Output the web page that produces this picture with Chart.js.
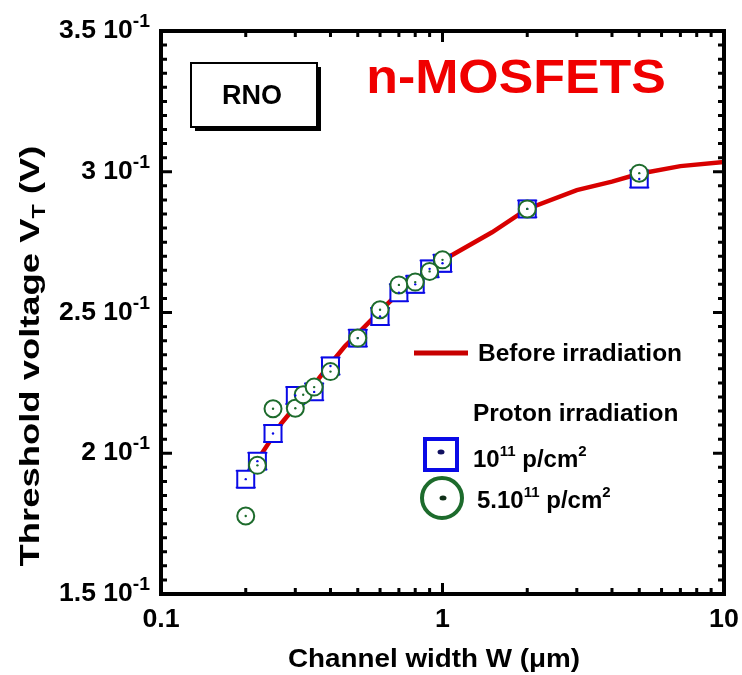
<!DOCTYPE html>
<html><head><meta charset="utf-8">
<script src="https://cdn.jsdelivr.net/npm/chart.js@4.4.1/dist/chart.umd.min.js"></script>
<style>html,body{margin:0;padding:0;background:#fff;}canvas{display:block;}</style>
</head><body>
<canvas id="c" width="742" height="675"></canvas>
<script>
// ---- data ----
const lineW  = [0.22, 0.25, 0.267, 0.3, 0.35, 0.4, 0.45, 0.5, 0.6, 0.7, 0.8, 0.9, 1.0, 1.5, 2, 3, 4, 5, 7, 10];
const lineVT = [0.1975, 0.206, 0.2105, 0.2166, 0.2245, 0.2318, 0.238, 0.2425, 0.2505, 0.257, 0.2615, 0.2655, 0.2685, 0.2785, 0.2868, 0.2935, 0.2965, 0.2993, 0.302, 0.3035];

const sqW   = [0.2, 0.22, 0.25, 0.3, 0.35, 0.4, 0.5, 0.6, 0.7, 0.8, 0.9, 1, 2, 5];
const sqVT  = [0.1908, 0.1972, 0.207, 0.2205, 0.2218, 0.231, 0.2409, 0.2486, 0.257, 0.260, 0.2655, 0.2675, 0.2868, 0.2974];
const sqErr = [0.003, 0.003, 0.003, 0.003, 0.003, 0.003, 0.003, 0.003, 0.003, 0.003, 0.003, 0.003, 0.003, 0.003];

const ciW   = [0.2, 0.22, 0.25, 0.3, 0.32, 0.35, 0.4, 0.5, 0.6, 0.7, 0.8, 0.9, 1, 2, 5];
const ciVT  = [0.1777, 0.1957, 0.2158, 0.216, 0.2208, 0.2235, 0.229, 0.2409, 0.251, 0.2598, 0.2608, 0.2646, 0.2687, 0.2868, 0.2995];

const xTicks = [0.1, 1, 10];
const xTickLabels = ['0.1', '1', '10'];
const yTicks = [0.15, 0.2, 0.25, 0.3, 0.35];
const yTickLabels = ['1.5', '2', '2.5', '3', '3.5'];
const yTickExp = '-1';

const seriesNames = ['Before irradiation', 'Proton irradiation', '10', '5.10'];

// ---- styles ----
const RED = '#d80000';
const BLUE = '#0a0ae6';
const GREEN = '#1d6b2c';
const FONT = '"Liberation Sans", Arial, Helvetica, sans-serif';

const zip = (a, b) => a.map((v, i) => ({x: v, y: b[i]}));

function richWidth(ctx, parts) {
  let w = 0;
  for (const p of parts) { ctx.font = 'bold ' + p.size + 'px ' + FONT; w += ctx.measureText(p.t).width; }
  return w;
}
function drawRich(ctx, parts, x, y, align, sx) {
  sx = sx || 1;
  const w = richWidth(ctx, parts);
  ctx.save();
  ctx.translate(x, y);
  ctx.scale(sx, 1);
  let cx = align === 'right' ? -w : (align === 'center' ? -w / 2 : 0);
  ctx.textBaseline = 'alphabetic';
  ctx.textAlign = 'left';
  for (const p of parts) {
    ctx.font = 'bold ' + p.size + 'px ' + FONT;
    ctx.fillText(p.t, cx, (p.dy || 0));
    cx += ctx.measureText(p.t).width;
  }
  ctx.restore();
}

const decor = {
  id: 'decor',
  beforeDatasetsDraw(chart) {
    const ctx = chart.ctx, xs = chart.scales.x, ys = chart.scales.y;
    ctx.save();
    ctx.strokeStyle = BLUE; ctx.lineWidth = 1.5;
    sqW.forEach((w, i) => {
      const px = xs.getPixelForValue(w);
      const p1 = ys.getPixelForValue(sqVT[i] + sqErr[i]);
      const p2 = ys.getPixelForValue(sqVT[i] - sqErr[i]);
      ctx.beginPath();
      ctx.moveTo(px, p1); ctx.lineTo(px, p2);
      ctx.moveTo(px - 10, p1); ctx.lineTo(px + 10, p1);
      ctx.moveTo(px - 10, p2); ctx.lineTo(px + 10, p2);
      ctx.stroke();
    });
    ctx.restore();
  },
  afterDatasetsDraw(chart) {
    const ctx = chart.ctx, xs = chart.scales.x, ys = chart.scales.y;
    ctx.save();
    ctx.fillStyle = BLUE;
    sqW.forEach((w, i) => {
      ctx.beginPath(); ctx.arc(xs.getPixelForValue(w), ys.getPixelForValue(sqVT[i]), 1.2, 0, 2 * Math.PI); ctx.fill();
    });
    ctx.fillStyle = GREEN;
    ciW.forEach((w, i) => {
      ctx.beginPath(); ctx.arc(xs.getPixelForValue(w), ys.getPixelForValue(ciVT[i]), 1.2, 0, 2 * Math.PI); ctx.fill();
    });
    ctx.restore();
  },
  afterDraw(chart) {
    const ctx = chart.ctx, xs = chart.scales.x, ys = chart.scales.y;
    const {left, right, top, bottom} = chart.chartArea;
    ctx.save();
    // frame
    ctx.strokeStyle = '#000'; ctx.lineWidth = 4;
    ctx.strokeRect(left, top, right - left, bottom - top);
    // x ticks (log minor)
    ctx.lineWidth = 3;
    ctx.beginPath();
    for (let d = -1; d < 1; d++) {
      for (let m = 1; m < 10; m++) {
        const v = m * Math.pow(10, d);
        const px = xs.getPixelForValue(v);
        const len = m === 1 ? 11 : 6;
        ctx.moveTo(px, bottom); ctx.lineTo(px, bottom - len);
        ctx.moveTo(px, top); ctx.lineTo(px, top + len);
      }
    }
    // y ticks
    for (let k = 0; k <= 40; k++) {
      const v = 0.15 + k * 0.005;
      const py = ys.getPixelForValue(v);
      const len = k % 10 === 0 ? 11 : 6;
      ctx.moveTo(left, py); ctx.lineTo(left + len, py);
      ctx.moveTo(right, py); ctx.lineTo(right - len, py);
    }
    ctx.stroke();

    // tick labels
    ctx.fillStyle = '#000';
    yTicks.forEach((v, i) => {
      const py = ys.getPixelForValue(v);
      drawRich(ctx, [
        {t: yTickLabels[i] + ' 10', size: 26},
        {t: yTickExp, size: 19, dy: -11}
      ], 150, py + 7, 'right', 1.02);
    });
    xTicks.forEach((v, i) => {
      drawRich(ctx, [{t: xTickLabels[i], size: 26}], xs.getPixelForValue(v), 627, 'center', 1.03);
    });

    // axis titles
    drawRich(ctx, [{t: 'Channel width W (\u03bcm)', size: 26}], 434, 667, 'center', 1.07);
    ctx.save();
    ctx.translate(39, 356);
    ctx.rotate(-Math.PI / 2);
    drawRich(ctx, [
      {t: 'Threshold voltage V', size: 28},
      {t: 'T', size: 18, dy: 6},
      {t: ' (V)', size: 28}
    ], 0, 0, 'center', 1.3);
    ctx.restore();

    // RNO box
    ctx.fillStyle = '#000';
    ctx.fillRect(195, 67, 126, 64);
    ctx.fillStyle = '#fff';
    ctx.fillRect(191, 63, 126, 64);
    ctx.strokeStyle = '#000'; ctx.lineWidth = 2;
    ctx.strokeRect(191, 63, 126, 64);
    ctx.fillStyle = '#000';
    drawRich(ctx, [{t: 'RNO', size: 27}], 252, 104, 'center');

    // n-MOSFETS
    ctx.fillStyle = '#f00000';
    drawRich(ctx, [{t: 'n-MOSFETS', size: 48}], 516, 93, 'center', 1.08);

    // legend
    ctx.strokeStyle = '#c80000'; ctx.lineWidth = 5;
    ctx.beginPath(); ctx.moveTo(414, 353); ctx.lineTo(468, 353); ctx.stroke();
    ctx.fillStyle = '#000';
    drawRich(ctx, [{t: seriesNames[0], size: 24}], 478, 361, 'left', 1.02);
    drawRich(ctx, [{t: seriesNames[1], size: 24}], 473, 421, 'left', 1.02);
    // square symbol
    ctx.strokeStyle = BLUE; ctx.lineWidth = 4;
    ctx.strokeRect(425, 439, 32, 31);
    ctx.fillStyle = '#101060';
    ctx.beginPath(); ctx.ellipse(441, 452, 3.5, 2.5, 0, 0, 2 * Math.PI); ctx.fill();
    ctx.fillStyle = '#000';
    drawRich(ctx, [
      {t: seriesNames[2], size: 24}, {t: '11', size: 15, dy: -11},
      {t: ' p/cm', size: 24}, {t: '2', size: 15, dy: -11}
    ], 473, 467, 'left');
    // circle symbol
    ctx.strokeStyle = GREEN; ctx.lineWidth = 4;
    ctx.beginPath(); ctx.arc(442, 498, 20, 0, 2 * Math.PI); ctx.stroke();
    ctx.fillStyle = '#103018';
    ctx.beginPath(); ctx.ellipse(443, 498, 3.5, 2.5, 0, 0, 2 * Math.PI); ctx.fill();
    ctx.fillStyle = '#000';
    drawRich(ctx, [
      {t: seriesNames[3], size: 24}, {t: '11', size: 15, dy: -11},
      {t: ' p/cm', size: 24}, {t: '2', size: 15, dy: -11}
    ], 477, 508, 'left');
    ctx.restore();
  }
};

new Chart(document.getElementById('c'), {
  type: 'scatter',
  data: {
    datasets: [
      {
        label: '5.10^11 p/cm2', data: zip(ciW, ciVT), order: 1,
        pointStyle: 'circle', pointRadius: 8.5, pointBorderWidth: 2,
        pointBorderColor: GREEN, pointBackgroundColor: '#fff', showLine: false
      },
      {
        label: '10^11 p/cm2', data: zip(sqW, sqVT), order: 2,
        pointStyle: 'rect', pointRadius: 12, pointBorderWidth: 2,
        pointBorderColor: BLUE, pointBackgroundColor: '#fff', showLine: false
      },
      {
        label: 'Before irradiation', data: zip(lineW, lineVT), order: 3,
        showLine: true, borderColor: RED, borderWidth: 4.5, pointRadius: 0, tension: 0, fill: false
      }
    ]
  },
  options: {
    responsive: false,
    animation: false,
    layout: {padding: {left: 161, right: 18, top: 31, bottom: 81}},
    plugins: {legend: {display: false}, tooltip: {enabled: false}},
    scales: {
      x: {type: 'logarithmic', min: 0.1, max: 10, display: false},
      y: {type: 'linear', min: 0.15, max: 0.35, display: false}
    }
  },
  plugins: [decor]
});
</script>
</body></html>
